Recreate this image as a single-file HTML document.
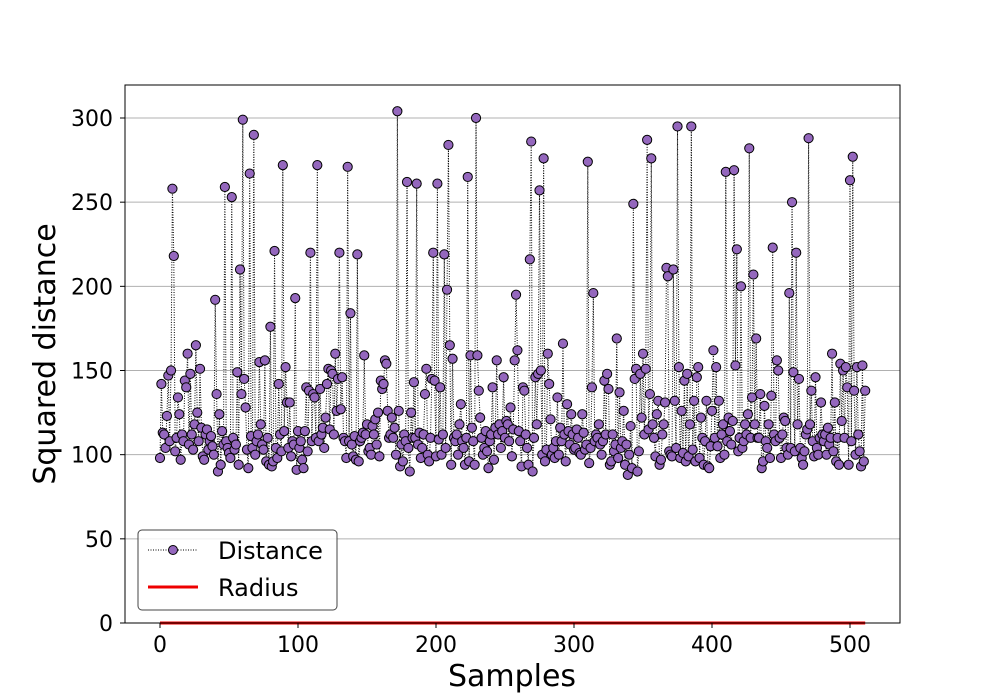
<!DOCTYPE html>
<html><head><meta charset="utf-8"><style>body{margin:0;background:#fff}svg{display:block;font-family:"DejaVu Sans","Liberation Sans",sans-serif}</style></head>
<body>
<svg id="chart" width="1000" height="700" xmlns="http://www.w3.org/2000/svg">
<rect width="1000" height="700" fill="#fff"/>
<g id="grid"></g><g id="series"></g>
<rect x="125" y="85" width="775" height="538" fill="none" stroke="#000" stroke-width="1"/>
<g id="axes"></g>
<text x="512" y="686" font-size="30" text-anchor="middle">Samples</text>
<text transform="translate(55,354) rotate(-90)" font-size="30" text-anchor="middle">Squared distance</text>
<g>
<rect x="138" y="530" width="199" height="80" rx="4" fill="#fff" fill-opacity="0.8" stroke="#444"/>
<g>
<line x1="148" y1="550" x2="198" y2="550" stroke="#000" stroke-width="1" stroke-dasharray="1,1.5"/>
<circle cx="173" cy="550" r="4.5" fill="#9467bd" stroke="#000"/>
<text x="218" y="559" font-size="24">Distance</text></g>
<g>
<line x1="148" y1="587" x2="198" y2="587" stroke="#e00" stroke-width="3"/>
<text x="218" y="596" font-size="24">Radius</text></g>
</g>
</svg>
<script>
const distances=[98,142,113,112,104,123,147,108,150,258,218,102,110,134,124,97,
112,108,144,140,160,106,148,112,103,118,165,125,108,151,116,99,
97,112,115,103,108,111,105,100,192,136,90,124,94,114,106,259,
108,104,101,98,253,110,103,106,149,94,210,136,299,145,128,103,
92,267,111,104,290,100,108,112,155,118,106,103,156,96,110,94,
176,93,96,221,104,98,142,112,102,272,114,152,131,104,131,99,
108,106,193,91,114,104,108,97,92,114,140,102,138,220,108,136,
134,110,272,108,139,112,116,104,122,142,151,115,150,148,112,160,
126,145,220,127,146,110,108,98,271,108,184,106,99,111,97,219,
96,108,110,113,159,112,118,102,104,100,117,112,121,106,125,99,
144,139,142,156,154,126,110,112,122,110,116,100,304,126,93,106,
96,112,108,262,104,90,125,110,143,110,261,106,113,98,104,112,
136,151,100,96,110,145,220,144,99,261,109,140,100,112,219,104,
198,284,165,94,157,110,108,112,100,118,130,108,104,94,110,265,
96,159,116,108,94,300,159,138,122,110,100,104,114,102,92,108,
112,140,97,116,156,112,118,104,114,146,110,120,118,108,128,99,
115,156,195,162,114,108,93,140,138,112,104,94,216,286,90,110,
146,118,148,257,150,100,276,96,103,160,142,121,100,104,98,108,
134,100,116,108,166,112,96,130,114,106,124,112,103,104,115,110,
101,100,124,113,103,106,274,95,104,140,196,108,112,110,118,106,
100,108,144,112,148,139,94,96,112,102,106,169,98,137,104,108,
126,94,106,88,100,117,92,249,145,151,90,102,148,122,160,112,
151,287,115,136,276,118,110,99,124,132,94,97,112,118,131,211,
206,102,100,99,210,132,104,295,152,98,126,101,144,96,148,99,
118,295,103,132,96,146,152,98,122,110,94,108,132,93,92,105,
126,162,110,152,105,132,98,112,118,100,268,108,122,114,106,120,
269,153,222,102,110,200,104,108,118,112,124,282,110,134,207,118,
169,110,110,136,92,96,129,108,104,118,98,135,223,112,108,156,
150,110,98,112,122,120,104,100,196,104,250,149,102,220,118,145,
104,98,94,102,112,115,288,118,138,108,99,146,104,100,110,131,
112,108,112,100,116,106,110,160,102,131,96,110,94,154,120,150,
110,152,140,94,263,108,277,138,100,152,112,102,93,153,96,138];
const radius=[0];
const xTicks=[0,100,200,300,400,500];
const yTicks=[0,50,100,150,200,250,300];
const NS="http://www.w3.org/2000/svg";
function X(v){return 160+v*1.38;}
function Y(v){return 623-v*(505/300);}
function mk(t,a,p){const e=document.createElementNS(NS,t);for(const k in a)e.setAttribute(k,a[k]);p.appendChild(e);return e;}
const grid=document.getElementById('grid'),axes=document.getElementById('axes'),ser=document.getElementById('series');
yTicks.forEach(t=>{
 const g=mk('line',{x1:125,x2:900,y1:Y(t),y2:Y(t),stroke:'#b0b0b0','stroke-width':1},grid);
 
 
 mk('line',{x1:120,x2:125,y1:Y(t),y2:Y(t),stroke:'#000'},axes);
 const l=mk('text',{x:113,y:Y(t)+8,'font-size':22,'text-anchor':'end'},axes);l.textContent=t;
 
 
});
xTicks.forEach(t=>{
 mk('line',{x1:X(t),x2:X(t),y1:623,y2:628,stroke:'#000'},axes);
 const l=mk('text',{x:X(t),y:652,'font-size':22,'text-anchor':'middle'},axes);l.textContent=t;
 
 
});
const pts=distances.map((d,i)=>X(i).toFixed(2)+','+Y(d).toFixed(2)).join(' ');
const pl=mk('polyline',{points:pts,fill:'none',stroke:'#000','stroke-width':1,'stroke-dasharray':'1,1.5'},ser);


distances.forEach((d,i)=>{
 const c=mk('circle',{cx:X(i),cy:Y(d),r:4.6,fill:'#9467bd',stroke:'#000','stroke-width':1},ser);
 
 
});
const rl=mk('line',{x1:X(0),x2:X(distances.length-1),y1:Y(radius[0]),y2:Y(radius[0]),stroke:'#e00','stroke-width':3},ser);


</script>
</body></html>
